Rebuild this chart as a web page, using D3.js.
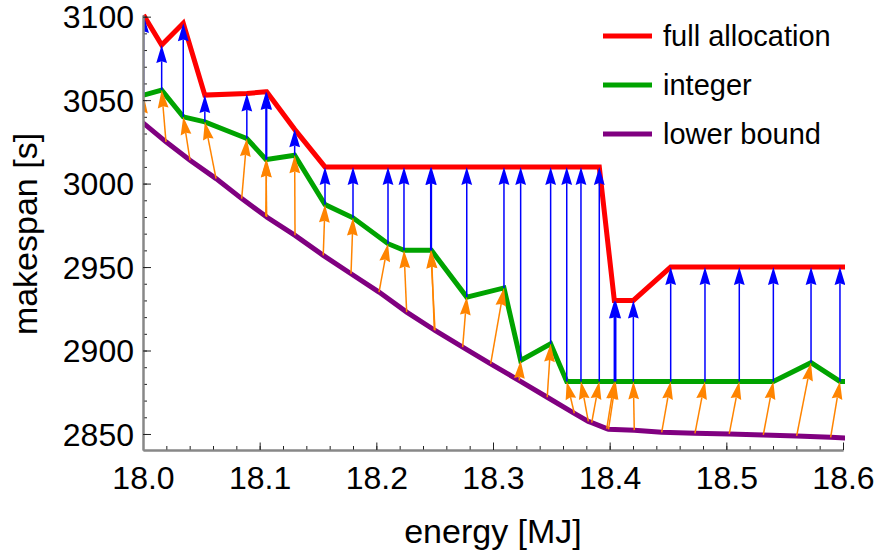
<!DOCTYPE html>
<html>
<head>
<meta charset="utf-8">
<script src="https://cdn.jsdelivr.net/npm/d3@7"></script>
<style>
  body { margin: 0; background: #fff; }
  text { font-family: "Liberation Sans", Arial, sans-serif; fill: #000; }
</style>
</head>
<body>
<div id="chart"></div>
<script>
// one entry per run: energy of the integer / full allocation solution
const energyInt = [18.0005, 18.016, 18.0345, 18.053, 18.089, 18.1054, 18.106, 18.13, 18.156, 18.18,
  18.21, 18.2237, 18.2466, 18.2472, 18.2775, 18.3094, 18.3237, 18.3494, 18.3632, 18.3754,
  18.3911, 18.404, 18.4052, 18.4203, 18.4523, 18.4817, 18.5111, 18.5403, 18.5726, 18.5974, 18.625];
const makespanFull = [3101, 3083, 3096, 3053, 3054, 3055, 3055, 3032.5, 3010, 3010,
  3010, 3010, 3010, 3010, 3010, 3010, 3010, 3010, 3010, 3010,
  3010, 2930, 2930, 2930, 2950, 2950, 2950, 2950, 2950, 2950, 2950];
const makespanInt = [3053, 3056, 3040, 3037, 3027, 3014.5, 3014.5, 3017, 2987.5, 2979.5,
  2964, 2960, 2960, 2960, 2932, 2937.5, 2894, 2904, 2881.5, 2881.5,
  2881.5, 2881.5, 2881.5, 2881.5, 2881.5, 2881.5, 2881.5, 2881.5, 2892.7, 2881.5, 2881.5];
// lower bound of the same runs
const energyLb = [17.999, 18.0197, 18.0403, 18.0626, 18.0846, 18.106, 18.1052, 18.1303, 18.1545, 18.1783,
  18.2023, 18.226, 18.2503, 18.2497, 18.274, 18.298, 18.3225, 18.3465, 18.3697, 18.3817,
  18.3846, 18.3975, 18.399, 18.4211, 18.4446, 18.4731, 18.5025, 18.5317, 18.5603, 18.5894, 18.618];
const makespanLb = [3037, 3025, 3014, 3003, 2991, 2980, 2980.5, 2969, 2957, 2946,
  2935, 2923, 2912, 2912.3, 2902, 2892, 2882, 2872, 2862.4, 2857.5,
  2856.8, 2853.2, 2852.8, 2852.3, 2851, 2850.4, 2850, 2849.4, 2848.8, 2848, 2847.2];

const xTicks = [18.0, 18.1, 18.2, 18.3, 18.4, 18.5, 18.6];
const yTicks = [2850, 2900, 2950, 3000, 3050, 3100];
const seriesNames = ["full allocation", "integer", "lower bound"];
const seriesColors = ["#ff0000", "#00a300", "#800080"];

const W = 878, H = 554;
const box = { left: 143, right: 843, top: 15, bottom: 450 };

const svg = d3.select("#chart").append("svg").attr("width", W).attr("height", H);

const x = d3.scaleLinear().domain([18.0, 18.6]).range([box.left, box.right]);
const y = d3.scaleLinear().domain([2840.4, 3101]).range([box.bottom, box.top]);

svg.append("clipPath").attr("id", "clip")
  .append("rect").attr("x", box.left).attr("y", 0)
  .attr("width", box.right - box.left + 2).attr("height", box.bottom);

const plot = svg.append("g").attr("clip-path", "url(#clip)");

const runs = energyInt.map((e, i) => ({
  e, full: makespanFull[i], int: makespanInt[i], eLb: energyLb[i], lb: makespanLb[i]
}));

const line = d3.line().x((d) => x(d[0])).y((d) => y(d[1]));
const byE = (a, b) => a[0] - b[0];
const fullPts = runs.map((d) => [d.e, d.full]).sort(byE);
const intPts = runs.map((d) => [d.e, d.int]).sort(byE);
const lbPts = runs.map((d) => [d.eLb, d.lb]).sort(byE);

[fullPts, intPts, lbPts].forEach((pts, i) => {
  plot.append("path").datum(pts)
    .attr("d", line)
    .attr("fill", "none")
    .attr("stroke", seriesColors[i])
    .attr("stroke-width", 5)
    .attr("stroke-linejoin", "miter");
});

function drawArrow(g, x1, y1, x2, y2, color) {
  const dx = x2 - x1, dy = y2 - y1;
  const len = Math.hypot(dx, dy);
  const ux = dx / len, uy = dy / len;
  const px = -uy, py = ux;
  const hl = Math.min(18, len), hw = 5.4;
  const bx = x2 - ux * hl, by = y2 - uy * hl;
  const nx = x2 - ux * hl * 0.9, ny = y2 - uy * hl * 0.9;
  g.append("line")
    .attr("x1", x1).attr("y1", y1).attr("x2", nx).attr("y2", ny)
    .attr("stroke", color).attr("stroke-width", 1.5);
  g.append("path")
    .attr("d", `M${x2},${y2}L${bx + px * hw},${by + py * hw}L${nx},${ny}L${bx - px * hw},${by - py * hw}Z`)
    .attr("fill", color);
}

const arrows = plot.append("g");
runs.forEach((d) => {
  drawArrow(arrows, x(d.eLb), y(d.lb), x(d.e), y(d.int), "#ff8400");
});
runs.forEach((d) => {
  drawArrow(arrows, x(d.e), y(d.int), x(d.e), y(d.full), "#0000ff");
});

// axes
const minorX = d3.range(0, 31).map((i) => 18 + i * 0.02);
const minorY = d3.range(0, 26).map((i) => 2850 + i * 10);

const xMinor = svg.append("g").attr("transform", `translate(0,${box.bottom})`)
  .call(d3.axisBottom(x).tickValues(minorX).tickSize(-4).tickSizeOuter(0).tickFormat(""));
const xMajor = svg.append("g").attr("transform", `translate(0,${box.bottom})`)
  .call(d3.axisBottom(x).tickValues(xTicks).tickSize(-7.5).tickSizeOuter(0).tickFormat(d3.format(".1f")));
const yMinor = svg.append("g").attr("transform", `translate(${box.left},0)`)
  .call(d3.axisLeft(y).tickValues(minorY).tickSize(-4).tickSizeOuter(0).tickFormat(""));
const yMajor = svg.append("g").attr("transform", `translate(${box.left},0)`)
  .call(d3.axisLeft(y).tickValues(yTicks).tickSize(-8).tickSizeOuter(0).tickFormat(d3.format("d")));

[xMinor, xMajor, yMinor, yMajor].forEach((a) => {
  a.select(".domain").attr("stroke", "#888").attr("stroke-width", 2);
  a.selectAll(".tick line").attr("stroke", "#222").attr("stroke-width", 1);
});
xMajor.selectAll(".tick text")
  .attr("y", 38.5).attr("dy", 0)
  .style("font-size", "32px").style("font-family", "'Liberation Sans', Arial, sans-serif");
yMajor.selectAll(".tick text")
  .attr("x", -9).attr("dy", "0.35em")
  .style("font-size", "32px").style("font-family", "'Liberation Sans', Arial, sans-serif");

svg.append("text")
  .attr("x", 493)
  .attr("y", 543)
  .attr("text-anchor", "middle")
  .style("font-size", "34px")
  .text("energy [MJ]");

svg.append("text")
  .attr("transform", "rotate(-90)")
  .attr("x", -234)
  .attr("y", 37)
  .attr("text-anchor", "middle")
  .style("font-size", "34px")
  .text("makespan [s]");

// legend
const legend = svg.append("g");
seriesNames.forEach((name, i) => {
  const ly = 36 + i * 49;
  legend.append("line")
    .attr("x1", 603).attr("x2", 652).attr("y1", ly).attr("y2", ly)
    .attr("stroke", seriesColors[i]).attr("stroke-width", 5);
  legend.append("text")
    .attr("x", 663).attr("y", ly + 10)
    .style("font-size", "29px")
    .text(name);
});
</script>
</body>
</html>
